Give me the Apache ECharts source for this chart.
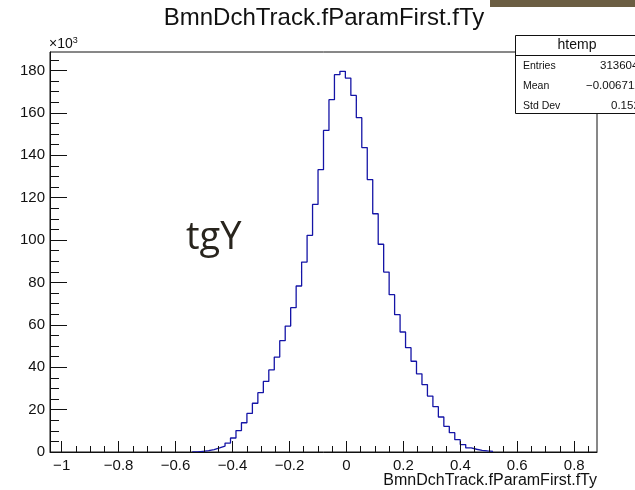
<!DOCTYPE html>
<html>
<head>
<meta charset="utf-8">
<script src="https://cdn.jsdelivr.net/npm/echarts@6/dist/echarts.min.js"></script>
<style>
html,body{margin:0;padding:0;background:#fff;}
#chart{width:635px;height:490px;}
</style>
</head>
<body>
<div id="chart"></div>
<script>
// ---- data ----
const xMin = -1.041;
const xMax = 0.880;
const nBins = 100;
const firstBin = 27;
// bin contents in thousands (x10^3), bins 27..80
const binCounts = [0.3,0.6,1.1,1.9,2.8,4.2,6.6,10.1,13.8,18.2,
  23.0,28.0,33.3,38.7,44.8,52.5,59.4,68.1,78.3,89.6,
  102.2,116.8,133.2,151.7,166.2,178.0,179.6,176.4,168.2,157.7,
  143.6,128.5,112.4,98.0,84.9,74.2,64.8,56.6,49.2,42.8,
  36.9,31.8,26.4,21.4,16.5,12.1,9.1,5.8,3.5,1.9,
  1.3,0.8,0.5,0.3];
const yMax = 188.7;
const xMajorTicks = [-1,-0.8,-0.6,-0.4,-0.2,0,0.2,0.4,0.6,0.8];
const xTickLabels = ['\u22121','\u22120.8','\u22120.6','\u22120.4','\u22120.2','0','0.2','0.4','0.6','0.8'];
const xMinorTicks = [-0.95,-0.9,-0.85,-0.75,-0.7,-0.65,-0.55,-0.5,-0.45,-0.35,-0.3,-0.25,-0.15,-0.1,-0.05,0.05,0.1,0.15,0.25,0.3,0.35,0.45,0.5,0.55,0.65,0.7,0.75,0.85];
const yMajorTicks = [0,20,40,60,80,100,120,140,160,180];
const yTickLabels = ['0','20','40','60','80','100','120','140','160','180'];
const yMinorTicks = [5,10,15,25,30,35,45,50,55,65,70,75,85,90,95,105,110,115,125,130,135,145,150,155,165,170,175,185];
const titleText = 'BmnDchTrack.fParamFirst.fTy';
const xTitleText = 'BmnDchTrack.fParamFirst.fTy';
const statsName = 'htemp';
const statsLabels = ['Entries','Mean','Std Dev'];
const statsValues = ['3136040','\u22120.006712','0.1524'];
const annotation = 'tgY';

// ---- build step points ----
const binWidth = (xMax - xMin) / nBins;
const stepData = [];
stepData.push([xMin + (firstBin - 1) * binWidth, 0]);
binCounts.forEach((v, k) => stepData.push([xMin + (firstBin + k) * binWidth, v]));
stepData.push([xMin + (firstBin + binCounts.length) * binWidth, 0]);

const FONT = '"Liberation Sans", Arial, Helvetica, sans-serif';
const chart = echarts.init(document.getElementById('chart'), null, {renderer: 'canvas'});

const gLeft = 50, gTop = 52, gRight = 38, gBottom = 38;
const boxX = 515, boxY = 35, boxW = 125, boxH = 78;

chart.setOption({
  animation: false,
  backgroundColor: '#fff',
  grid: {left: gLeft, top: gTop, right: gRight, bottom: gBottom, show: true,
    borderColor: '#111', borderWidth: 1, containLabel: false, outerBoundsMode: 'none'},
  xAxis: [{
    type: 'value', min: xMin, max: xMax, position: 'bottom', z: 5,
    axisLine: {show: true, onZero: false, lineStyle: {color: '#111', width: 1}},
    axisTick: {show: true, inside: true, length: 11, customValues: xMajorTicks, lineStyle: {color: '#111'}},
    axisLabel: {show: true, customValues: xMajorTicks, margin: 6, color: '#111', fontFamily: FONT, fontSize: 15,
      formatter: v => { const i = xMajorTicks.findIndex(t => Math.abs(t - v) < 1e-6); return i >= 0 ? xTickLabels[i] : ''; }},
    splitLine: {show: false}
  }, {
    type: 'value', min: xMin, max: xMax, position: 'bottom', z: 5,
    axisLine: {show: false, onZero: false},
    axisTick: {show: true, inside: true, length: 6, customValues: xMinorTicks, lineStyle: {color: '#111'}},
    axisLabel: {show: false},
    splitLine: {show: false}
  }],
  yAxis: [{
    type: 'value', min: 0, max: yMax, position: 'left', z: 5,
    axisLine: {show: true, onZero: false, lineStyle: {color: '#111', width: 1}},
    axisTick: {show: true, inside: true, length: 17, customValues: yMajorTicks, lineStyle: {color: '#111'}},
    axisLabel: {show: true, customValues: yMajorTicks, margin: 5, color: '#111', fontFamily: FONT, fontSize: 15,
      formatter: v => { const i = yMajorTicks.findIndex(t => Math.abs(t - v) < 1e-6); return i >= 0 ? yTickLabels[i] : ''; }},
    splitLine: {show: false}
  }, {
    type: 'value', min: 0, max: yMax, position: 'left', z: 5,
    axisLine: {show: false, onZero: false},
    axisTick: {show: true, inside: true, length: 9, customValues: yMinorTicks, lineStyle: {color: '#111'}},
    axisLabel: {show: false},
    splitLine: {show: false}
  }],
  series: [{
    type: 'line', xAxisIndex: 0, yAxisIndex: 0, step: 'end', symbol: 'none',
    data: stepData, z: 2,
    lineStyle: {color: '#1414a6', width: 1.3}
  }],
  graphic: [
    {type: 'rect', left: 490, top: 0, shape: {width: 145, height: 7}, style: {fill: '#6b5e43'}, z: 10},
    {type: 'text', x: 324, y: 18, style: {text: titleText, fontFamily: FONT, fontSize: 24, fill: '#111', textAlign: 'center', textVerticalAlign: 'middle'}, z: 10},
    {type: 'text', x: 597, y: 481, style: {text: xTitleText, fontFamily: FONT, fontSize: 16, fill: '#111', textAlign: 'right', textVerticalAlign: 'middle'}, z: 10},
    {type: 'text', x: 49, y: 44, style: {text: '\u00d710{s|3}', rich: {s: {fontSize: 9, verticalAlign: 'top', padding: [0,0,6,0], fontFamily: FONT, fill: '#111'}}, fontFamily: FONT, fontSize: 14, fill: '#111', textAlign: 'left', textVerticalAlign: 'middle'}, z: 10},
    {type: 'text', x: 186, y: 238, style: {text: annotation, fontFamily: '"Open Sans", Lato, sans-serif', fontSize: 38, fill: '#28241d', textAlign: 'left', textVerticalAlign: 'middle'}, z: 10},
    {type: 'rect', shape: {x: boxX + 0.5, y: boxY + 0.5, width: boxW, height: boxH}, style: {fill: '#fff', stroke: '#111', lineWidth: 1}, z: 20},
    {type: 'line', shape: {x1: boxX, y1: 55.5, x2: boxX + boxW, y2: 55.5}, style: {stroke: '#111', lineWidth: 1}, z: 21},
    {type: 'text', x: 577, y: 45, style: {text: statsName, fontFamily: FONT, fontSize: 14, fill: '#111', textAlign: 'center', textVerticalAlign: 'middle'}, z: 21},
    {type: 'text', x: 523, y: 66, style: {text: statsLabels[0], fontFamily: FONT, fontSize: 10.5, fill: '#111', textVerticalAlign: 'middle'}, z: 21},
    {type: 'text', x: 523, y: 86, style: {text: statsLabels[1], fontFamily: FONT, fontSize: 10.5, fill: '#111', textVerticalAlign: 'middle'}, z: 21},
    {type: 'text', x: 523, y: 106, style: {text: statsLabels[2], fontFamily: FONT, fontSize: 10.5, fill: '#111', textVerticalAlign: 'middle'}, z: 21},
    {type: 'text', x: 600, y: 66, style: {text: statsValues[0], fontFamily: FONT, fontSize: 11.5, fill: '#111', textVerticalAlign: 'middle'}, z: 21},
    {type: 'text', x: 586, y: 86, style: {text: statsValues[1], fontFamily: FONT, fontSize: 11.5, fill: '#111', textVerticalAlign: 'middle'}, z: 21},
    {type: 'text', x: 611, y: 106, style: {text: statsValues[2], fontFamily: FONT, fontSize: 11.5, fill: '#111', textVerticalAlign: 'middle'}, z: 21}
  ]
});
</script>
</body>
</html>
